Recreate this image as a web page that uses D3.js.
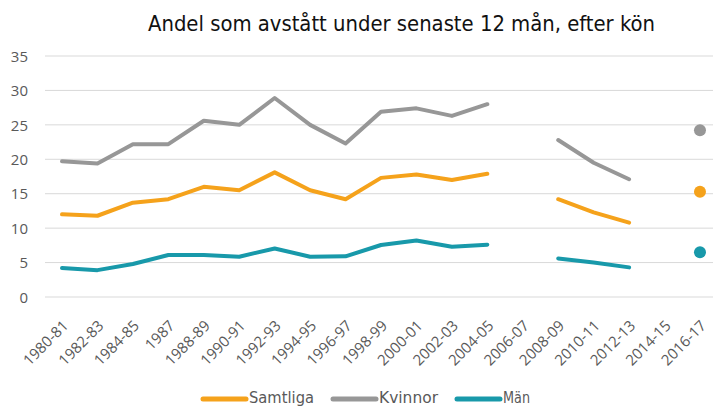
<!DOCTYPE html>
<html><head><meta charset="utf-8">
<script src="https://cdn.jsdelivr.net/npm/d3@7"></script>
<style>body{margin:0;background:#fff;} svg{display:block;}</style>
</head><body>
<svg id="c" width="713" height="407"></svg>
<script>
const categories = ["1980-81","1982-83","1984-85","1987","1988-89","1990-91","1992-93","1994-95","1996-97","1998-99","2000-01","2002-03","2004-05","2006-07","2008-09","2010-11","2012-13","2014-15","2016-17"];
const samtliga = [12.0,11.8,13.7,14.2,16.0,15.5,18.1,15.5,14.2,17.3,17.8,17.0,17.9,null,14.2,12.3,10.8,null,15.3];
const kvinnor  = [19.7,19.4,22.2,22.2,25.6,25.0,28.9,25.0,22.3,26.9,27.4,26.3,28.0,null,22.8,19.5,17.1,null,24.2];
const man      = [4.2,3.9,4.8,6.1,6.1,5.85,7.05,5.85,5.9,7.55,8.2,7.3,7.6,null,5.6,5.0,4.3,null,6.5];
const yTicks = [0,5,10,15,20,25,30,35];
const seriesNames = ["Samtliga","Kvinnor","Män"];
const seriesColors = ["#F5A21B","#979797","#1899AA"];
const title = "Andel som avstått under senaste 12 mån, efter kön";

(function(){
const svg = d3.select("#c");
const condensed = "'Liberation Sans Narrow','DejaVu Sans Condensed','Roboto Condensed','Liberation Sans',sans-serif";
const pl = 44.3, pr = 717.7, pt = 56, pb = 297;

const x = d3.scalePoint().domain(categories).range([pl, pr]).padding(0.5);
const y = d3.scaleLinear().domain([0,35]).range([pb, pt]);

svg.append("g").selectAll("line").data(yTicks).join("line")
  .attr("x1", 45).attr("x2", 713)
  .attr("y1", d => y(d)).attr("y2", d => y(d))
  .attr("stroke", "#d9d9d9").attr("stroke-width", 1);

const yAxis = d3.axisLeft(y).tickValues(yTicks).tickSize(0).tickPadding(0);
const ya = svg.append("g").attr("transform", "translate(28,0)").call(yAxis);
ya.select(".domain").remove();
ya.selectAll("text").attr("font-family", "'Open Sans','Liberation Sans',sans-serif")
  .attr("font-size", 15).attr("fill", "#595959").attr("dy", "0.35em");

const xAxis = d3.axisBottom(x).tickSize(0).tickPadding(0);
const xa = svg.append("g").attr("transform", `translate(0,${pb})`).call(xAxis);
xa.select(".domain").remove();
xa.selectAll("text")
  .attr("font-family", "'Open Sans','Liberation Sans',sans-serif")
  .attr("font-size", 15).attr("fill", "#595959")
  .attr("text-anchor", "end")
  .attr("dy", "0.35em")
  .attr("y", 0)
  .attr("transform", "translate(3,26) rotate(-45)");

const allSeries = [samtliga, kvinnor, man];
const line = d3.line().defined(d => d != null).x((d,i) => x(categories[i])).y(d => y(d));
[1,0,2].forEach(si => {
  const vals = allSeries[si];
  svg.append("path").datum(vals)
    .attr("d", line)
    .attr("fill", "none")
    .attr("stroke", seriesColors[si])
    .attr("stroke-width", 4)
    .attr("stroke-linejoin", "round")
    .attr("stroke-linecap", "round");
  const iso = vals.map((v,i) => ({v,i})).filter(o => o.v != null &&
      (o.i === 0 || vals[o.i-1] == null) && (o.i === vals.length-1 || vals[o.i+1] == null));
  svg.append("g").selectAll("circle").data(iso).join("circle")
    .attr("cx", o => x(categories[o.i])).attr("cy", o => y(o.v))
    .attr("r", 6).attr("fill", seriesColors[si]);
});

svg.append("text").attr("x", 148).attr("y", 31)
  .attr("font-family", condensed).attr("font-size", 21).attr("fill", "#111")
  .attr("textLength", 507).attr("lengthAdjust", "spacingAndGlyphs")
  .text(title);

const legX = [203, 333, 457];
const legTextLen = [65, 59, 27];
seriesNames.forEach((n, i) => {
  const g = svg.append("g");
  g.append("line").attr("x1", legX[i]).attr("x2", legX[i] + 43)
    .attr("y1", 399).attr("y2", 399)
    .attr("stroke", seriesColors[i]).attr("stroke-width", 5).attr("stroke-linecap", "round");
  g.append("text").attr("x", legX[i] + 46).attr("y", 403)
    .attr("font-family", condensed).attr("font-size", 15).attr("fill", "#595959")
    .attr("textLength", legTextLen[i]).attr("lengthAdjust", "spacingAndGlyphs")
    .text(n);
});
})();
</script>
</body></html>
